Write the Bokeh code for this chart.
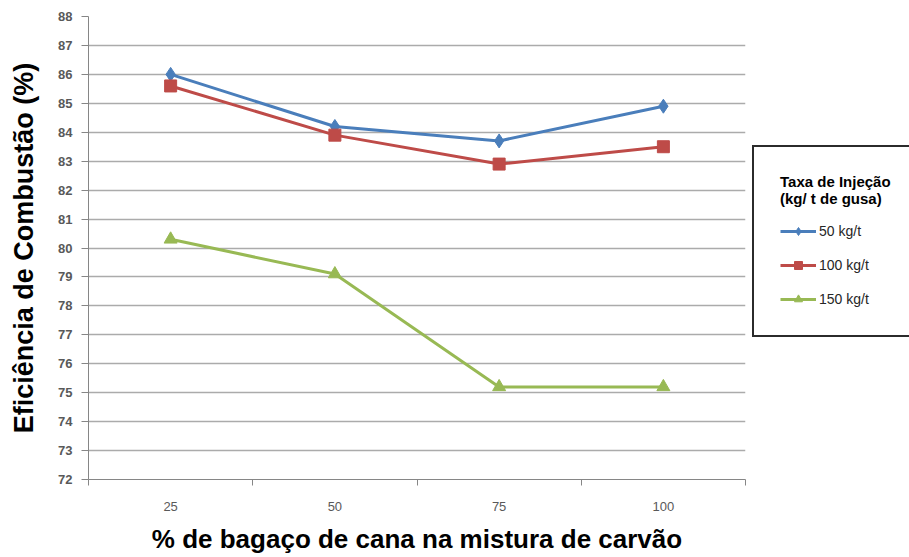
from bokeh.plotting import figure
from bokeh.models import FixedTicker, Legend, LegendItem, Range1d
from bokeh.embed import file_html
from bokeh.resources import INLINE

# ---- data ----
categories = ["25", "50", "75", "100"]
series_names = ["50 kg/t", "100 kg/t", "150 kg/t"]
eff_50 = [86.0, 84.2, 83.7, 84.9]
eff_100 = [85.6, 83.9, 82.9, 83.5]
eff_150 = [80.3, 79.1, 75.2, 75.2]
y_ticks = list(range(72, 89))

x_pos = [i + 1 for i in range(len(categories))]
boundaries = [i + 0.5 for i in range(len(categories) + 1)]

p = figure(frame_width=657, frame_height=463,
           min_border_left=88, min_border_right=164,
           min_border_top=16, min_border_bottom=78,
           x_range=Range1d(0.5, len(categories) + 0.5),
           y_range=Range1d(72, 88),
           output_backend="svg", toolbar_location=None)
p.outline_line_color = None
p.background_fill_color = "white"
p.border_fill_color = "white"

axis_col = "#868686"
font = "Liberation Sans"

# x axis
xa = p.xaxis[0]
xa.ticker = FixedTicker(ticks=x_pos, minor_ticks=boundaries)
xa.major_label_overrides = {xp: c for xp, c in zip(x_pos, categories)}
xa.major_tick_out = 0
xa.major_tick_in = 0
xa.minor_tick_out = 6
xa.minor_tick_in = 0
xa.minor_tick_line_color = axis_col
xa.axis_line_color = axis_col
xa.major_label_standoff = 16
xa.major_label_text_font = font
xa.major_label_text_font_size = "13px"
xa.major_label_text_color = "#595959"
xa.axis_label = "% de bagaço de cana na mistura de carvão"
xa.axis_label_text_font = font
xa.axis_label_text_font_size = "26px"
xa.axis_label_text_font_style = "bold"
xa.axis_label_text_color = "black"
xa.axis_label_standoff = 10

# y axis
ya = p.yaxis[0]
ya.ticker = FixedTicker(ticks=y_ticks, minor_ticks=[])
ya.major_tick_out = 7
ya.major_tick_in = 0
ya.major_tick_line_color = axis_col
ya.axis_line_color = axis_col
ya.major_label_standoff = 9
ya.major_label_text_font = font
ya.major_label_text_font_size = "13px"
ya.major_label_text_font_style = "bold"
ya.major_label_text_color = "#595959"
ya.axis_label = "Eficiência de Combustão (%)"
ya.axis_label_text_font = font
ya.axis_label_text_font_size = "27px"
ya.axis_label_text_font_style = "bold"
ya.axis_label_text_color = "black"
ya.axis_label_standoff = 16

p.xgrid.visible = False
p.ygrid.ticker = FixedTicker(ticks=y_ticks)
p.ygrid.grid_line_color = "#ababab"
p.ygrid.grid_line_width = 1.3

colors = ["#4A7EBB", "#BE4B48", "#98B954"]
markers = ["diamond", "square", "triangle"]
sizes = [14, 12, 13]
data = [eff_50, eff_100, eff_150]

items = []
for name, vals, c, m, s in zip(series_names, data, colors, markers, sizes):
    l = p.line(x_pos, vals, line_color=c, line_width=3)
    sc = p.scatter(x_pos, vals, marker=m, size=s, fill_color=c, line_color=c)
    items.append(LegendItem(label=name, renderers=[l, sc]))

legend = Legend(items=items, location=(7, 142),
                title="Taxa de Injeção\n(kg/ t de gusa)",
                title_text_font=font, title_text_font_size="15px",
                title_text_font_style="bold", title_text_color="black",
                title_standoff=14,
                label_text_font=font, label_text_font_size="14px",
                label_text_color="#262626", label_standoff=3,
                glyph_width=36, glyph_height=20, label_height=20,
                spacing=14, padding=26, margin=0, label_width=73,
                border_line_color="#2b2b2b", border_line_width=2,
                border_line_alpha=1,
                background_fill_color="white", background_fill_alpha=1)
p.add_layout(legend, "right")

open("out.html", "w").write(file_html(p, INLINE))
